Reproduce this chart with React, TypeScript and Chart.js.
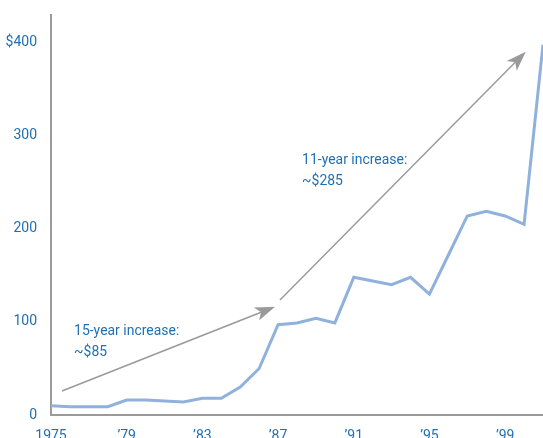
import { useEffect, useRef } from "react";
import { Chart, registerables } from "chart.js";

Chart.register(...registerables);

const YEARS = [1975, 1976, 1977, 1978, 1979, 1980, 1981, 1982, 1983, 1984, 1985, 1986, 1987, 1988, 1989, 1990, 1991, 1992, 1993, 1994, 1995, 1996, 1997, 1998, 1999, 2000, 2001];
const VALUES = [10, 9, 9, 9, 16, 16, 15, 14, 18, 18, 30, 50, 97, 99, 104, 99, 148, 144, 140, 148, 130, 172, 214, 219, 214, 205, 398];
const X_TICKS = [1975, 1979, 1983, 1987, 1991, 1995, 1999];
const Y_TICKS = [0, 100, 200, 300, 400];

const ARROW_1 = [[1975.58, 25.8], [1986.84, 116.4]];
const ARROW_2 = [[1987.1, 123.6], [2000.09, 390.6]];
const NOTE_1 = ["15-year increase:", "~$85"];
const NOTE_1_AT = [1976.22, 86];
const NOTE_2 = ["11-year increase:", "~$285"];
const NOTE_2_AT = [1988.27, 269.5];

const FONT = 'Roboto, "Noto Sans", sans-serif';
const BLUE = "#1f70b3";
const GRAY = "#9a9a9a";

function xLabel(v: number) {
  return v === 1975 ? "1975" : "\u2019" + String(v).slice(2);
}

const overlay = {
  id: "overlay",
  afterDatasetsDraw(chart: any) {
    const { ctx, scales } = chart;
    const xs = scales.x;
    const ys = scales.y;
    ctx.save();
    for (const a of [ARROW_1, ARROW_2]) {
      const x0 = xs.getPixelForValue(a[0][0]);
      const y0 = ys.getPixelForValue(a[0][1]);
      const x1 = xs.getPixelForValue(a[1][0]);
      const y1 = ys.getPixelForValue(a[1][1]);
      const dx = x1 - x0;
      const dy = y1 - y0;
      const len = Math.hypot(dx, dy);
      const ux = dx / len;
      const uy = dy / len;
      const px = -uy;
      const py = ux;
      const L = 20;
      const W = 7;
      const N = 5;
      const nx = x1 - ux * (L - N);
      const ny = y1 - uy * (L - N);
      ctx.strokeStyle = GRAY;
      ctx.lineWidth = 1.5;
      ctx.beginPath();
      ctx.moveTo(x0, y0);
      ctx.lineTo(nx, ny);
      ctx.stroke();
      const bx = x1 - ux * L;
      const by = y1 - uy * L;
      ctx.fillStyle = GRAY;
      ctx.beginPath();
      ctx.moveTo(x1, y1);
      ctx.lineTo(bx + px * W, by + py * W);
      ctx.lineTo(nx, ny);
      ctx.lineTo(bx - px * W, by - py * W);
      ctx.closePath();
      ctx.fill();
    }
    ctx.fillStyle = BLUE;
    ctx.font = "15px " + FONT;
    ctx.textAlign = "left";
    ctx.textBaseline = "alphabetic";
    const notes: [string[], number[]][] = [[NOTE_1, NOTE_1_AT], [NOTE_2, NOTE_2_AT]];
    for (const [lines, at] of notes) {
      const tx = xs.getPixelForValue(at[0]);
      const ty = ys.getPixelForValue(at[1]);
      lines.forEach((t, i) => {
        ctx.save();
        ctx.translate(tx, ty + i * 21);
        ctx.scale(0.93, 1);
        ctx.fillText(t, 0, 0);
        ctx.restore();
      });
    }
    ctx.restore();
  },
};

export default function App() {
  const ref = useRef<HTMLCanvasElement | null>(null);
  useEffect(() => {
    document.body.style.margin = "0";
    document.body.style.overflow = "hidden";
    const canvas = ref.current!;
    const chart = new Chart(canvas, {
      type: "line",
      data: {
        datasets: [
          {
            data: YEARS.map((y, i) => ({ x: y, y: VALUES[i] })),
            borderColor: "#8fb1dc",
            borderWidth: 3,
            pointRadius: 0,
            tension: 0,
            fill: false,
          },
        ],
      },
      options: {
        animation: false,
        responsive: false,
        layout: { padding: { top: 15, right: 0, left: 0, bottom: 0 } },
        plugins: { legend: { display: false }, tooltip: { enabled: false } },
        scales: {
          x: {
            type: "linear",
            min: 1975,
            max: 2001,
            grid: { display: false },
            border: { display: true, color: GRAY, width: 2 },
            afterBuildTicks: (s: any) => {
              s.ticks = X_TICKS.map((v) => ({ value: v }));
            },
            afterFit: (s: any) => {
              s.height = 23;
            },
            ticks: {
              autoSkip: false,
              maxRotation: 0,
              padding: 5,
              color: BLUE,
              font: { family: FONT, size: 14 },
              callback: (v: any) => xLabel(Number(v)),
            },
          },
          y: {
            min: 0,
            max: 430,
            grid: { display: false },
            border: { display: true, color: GRAY, width: 2 },
            afterBuildTicks: (s: any) => {
              s.ticks = Y_TICKS.map((v) => ({ value: v }));
            },
            afterFit: (s: any) => {
              s.width = 51;
            },
            ticks: {
              padding: 6,
              color: BLUE,
              font: { family: FONT, size: 14 },
              callback: (v: any) => (Number(v) === 400 ? "$400" : String(v)),
            },
          },
        },
      },
      plugins: [overlay],
    });
    return () => chart.destroy();
  }, []);
  return (
    <div style={{ width: 543, height: 438, overflow: "hidden", background: "#fff" }}>
      <canvas ref={ref} width={543} height={438} style={{ display: "block" }} />
    </div>
  );
}
